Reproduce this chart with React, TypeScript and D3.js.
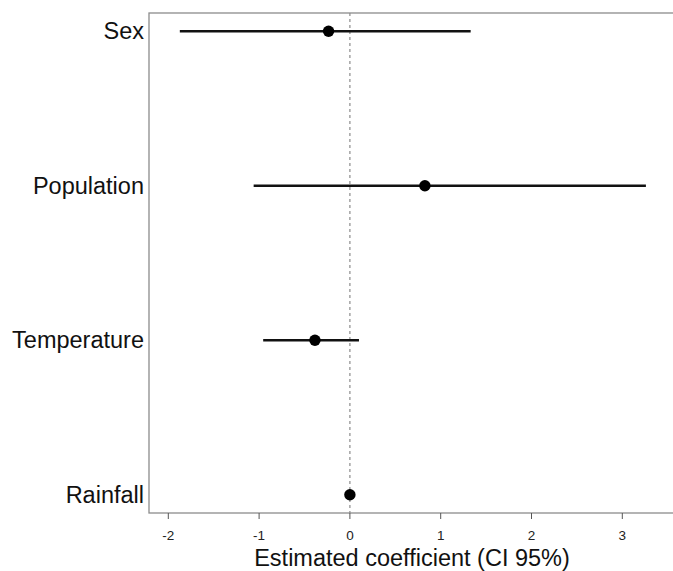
import React from 'react';
import * as d3 from 'd3';

const variables = ['Sex', 'Population', 'Temperature', 'Rainfall'];
const estimates = [-0.235, 0.826, -0.385, 0.0];
const lowerCI = [-1.873, -1.06, -0.955, 0.0];
const upperCI = [1.33, 3.26, 0.1, 0.0];
const xTicks = [-2, -1, 0, 1, 2, 3];

const W = 673;
const H = 571;
const left = 149;
const top = 13;
const bottom = 513;

const App = () => {
  // 0 sits at 350px, one unit is ~90.8px
  const x = d3.scaleLinear().domain([-2, 3]).range([168.3, 622.3]);
  const y = d3.scalePoint<string>().domain(variables).range([top, bottom]).padding(0.118);

  const font = 'Liberation Sans, Arial, sans-serif';

  return (
    <svg width={W} height={H} style={{ position: 'absolute', left: 0, top: 0, background: '#fff' }}>
      {/* box (right side runs off the picture) */}
      <rect x={left} y={top} width={W - left + 10} height={bottom - top} fill="none" stroke="#8c8c8c" strokeWidth={1.3} />

      {/* zero line */}
      <line x1={x(0)} x2={x(0)} y1={top} y2={bottom} stroke="#8c8c8c" strokeWidth={1.2} strokeDasharray="3,3" />

      {/* x axis ticks */}
      {xTicks.map((t) => (
        <g key={t}>
          <line x1={x(t)} x2={x(t)} y1={bottom} y2={bottom + 6} stroke="#555" strokeWidth={1} />
          <text x={x(t)} y={540} textAnchor="middle" fontFamily={font} fontSize={13.5} fill="#222">
            {t}
          </text>
        </g>
      ))}
      <text x={412} y={566} textAnchor="middle" fontFamily={font} fontSize={23.5} fill="#111">
        Estimated coefficient (CI 95%)
      </text>

      {/* category labels */}
      {variables.map((v) => (
        <text key={v} x={144} y={(y(v) as number) + 8} textAnchor="end" fontFamily={font} fontSize={23.5} fill="#111">
          {v}
        </text>
      ))}

      {/* intervals and estimates */}
      {variables.map((v, i) => (
        <g key={v}>
          <line x1={x(lowerCI[i])} x2={x(upperCI[i])} y1={y(v)} y2={y(v)} stroke="#111" strokeWidth={2.7} />
          <circle cx={x(estimates[i])} cy={y(v)} r={5.7} fill="#000" />
        </g>
      ))}
    </svg>
  );
};

export default App;
